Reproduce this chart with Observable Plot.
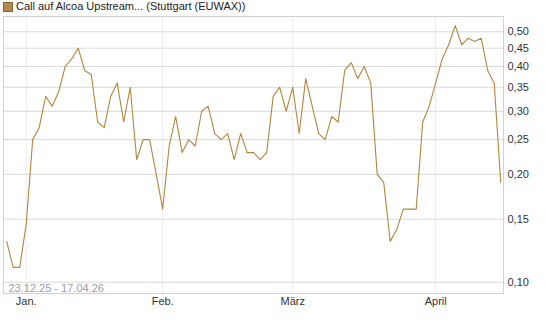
<!DOCTYPE html>
<html>
<head>
<meta charset="utf-8">
<script src="https://cdn.jsdelivr.net/npm/d3@7"></script>
<script src="https://cdn.jsdelivr.net/npm/@observablehq/plot@0.6"></script>
<style>
  html, body { margin: 0; padding: 0; background: #fff; }
  #title { position: relative; height: 15px; font: 11px "Liberation Sans", Arial, sans-serif; color: #222; }
  #title .sq { position: absolute; left: 3px; top: 2px; width: 8px; height: 8px; background: #b38a4e; border: 1px solid #8a6835; }
  #title .tx { position: absolute; left: 16px; top: 0px; line-height: 13px; white-space: nowrap; }
  svg { display: block; }
</style>
</head>
<body>
<div id="title"><span class="sq"></span><span class="tx">Call auf Alcoa Upstream... (Stuttgart (EUWAX))</span></div>
<div id="chart"></div>
<script>
const titleText = "Call auf Alcoa Upstream... (Stuttgart (EUWAX))";
const rangeLabel = "23.12.25 - 17.04.26";

const dates = [
  "2025-12-23","2025-12-29","2025-12-30",
  "2026-01-02","2026-01-05","2026-01-06","2026-01-07","2026-01-08","2026-01-09",
  "2026-01-12","2026-01-13","2026-01-14","2026-01-15","2026-01-16",
  "2026-01-19","2026-01-20","2026-01-21","2026-01-22","2026-01-23",
  "2026-01-26","2026-01-27","2026-01-28","2026-01-29","2026-01-30",
  "2026-02-02","2026-02-03","2026-02-04","2026-02-05","2026-02-06",
  "2026-02-09","2026-02-10","2026-02-11","2026-02-12","2026-02-13",
  "2026-02-16","2026-02-17","2026-02-18","2026-02-19","2026-02-20",
  "2026-02-23","2026-02-24","2026-02-25","2026-02-26","2026-02-27",
  "2026-03-02","2026-03-03","2026-03-04","2026-03-05","2026-03-06",
  "2026-03-09","2026-03-10","2026-03-11","2026-03-12","2026-03-13",
  "2026-03-16","2026-03-17","2026-03-18","2026-03-19","2026-03-20",
  "2026-03-23","2026-03-24","2026-03-25","2026-03-26","2026-03-27",
  "2026-03-30","2026-03-31",
  "2026-04-01","2026-04-02","2026-04-07","2026-04-08","2026-04-09","2026-04-10",
  "2026-04-13","2026-04-14","2026-04-15","2026-04-16","2026-04-17"
];

const values = [
  0.13, 0.11, 0.11,
  0.145, 0.25, 0.27, 0.33, 0.31, 0.34,
  0.40, 0.42, 0.45, 0.39, 0.38,
  0.28, 0.27, 0.33, 0.36, 0.28,
  0.35, 0.22, 0.25, 0.25, 0.20,
  0.16, 0.24, 0.29, 0.23, 0.25,
  0.24, 0.30, 0.31, 0.26, 0.25,
  0.26, 0.22, 0.26, 0.23, 0.23,
  0.22, 0.23, 0.33, 0.35, 0.30,
  0.35, 0.26, 0.37, 0.31, 0.26,
  0.25, 0.29, 0.28, 0.39, 0.41,
  0.37, 0.40, 0.36, 0.20, 0.19,
  0.13, 0.14, 0.16, 0.16, 0.16,
  0.28, 0.31,
  0.36, 0.42, 0.46, 0.52, 0.46, 0.48,
  0.47, 0.48, 0.39, 0.36, 0.19
];

const monthLabels = ["Jan.", "Feb.", "März", "April"];
const monthStarts = ["2026-01-02", "2026-02-02", "2026-03-02", "2026-04-01"];
const yTicks = [0.10, 0.15, 0.20, 0.25, 0.30, 0.35, 0.40, 0.45, 0.50];

const rows = dates.map((d, i) => ({i, date: d, value: values[i]}));
const monthIdx = monthStarts.map(m => dates.indexOf(m));

const chart = Plot.plot({
  width: 545,
  height: 312,
  marginTop: 1,
  marginLeft: 3,
  marginRight: 42,
  marginBottom: 34,
  style: {fontFamily: '"Liberation Sans", Arial, sans-serif', fontSize: "11px", color: "#333", background: "#fff", overflow: "visible"},
  x: {domain: [-0.49, 76.43], axis: null, label: null},
  y: {type: "log", domain: [0.093, 0.5516], axis: null, label: null},
  marks: [
    Plot.gridX(monthIdx, {stroke: "#ececec", strokeOpacity: 1}),
    Plot.gridY(yTicks, {stroke: "#d9d9d9", strokeOpacity: 1}),
    Plot.frame({stroke: "#d2d2d2"}),
    Plot.axisY(yTicks, {anchor: "right", tickSize: 0, tickPadding: 4, textAnchor: "start", label: null,
      tickFormat: d => d.toFixed(2).replace(".", ","), fill: "#333"}),
    Plot.axisX(monthIdx, {anchor: "bottom", tickSize: 0, tickPadding: 4, label: null,
      tickFormat: d => monthLabels[monthIdx.indexOf(d)], fill: "#333"}),
    Plot.text([rangeLabel], {frameAnchor: "bottom-left", text: d => d, dx: 5, dy: -2,
      textAnchor: "start", lineAnchor: "bottom", fill: "#9aa0a6", fontSize: 11}),
    Plot.line(rows, {x: "i", y: "value", stroke: "#b5853d", strokeWidth: 1.1})
  ]
});
document.getElementById("chart").appendChild(chart);
</script>
</body>
</html>
